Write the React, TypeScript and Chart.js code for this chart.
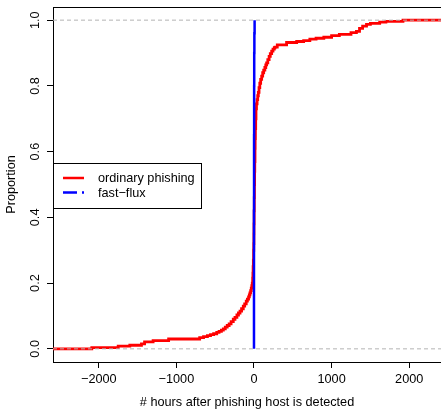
import { useEffect, useRef } from "react";
import { Chart, registerables } from "chart.js";

Chart.register(...registerables);

// Axis ranges and ticks
const X_MIN = -2590;
const X_MAX = 2410;
const Y_MIN = -0.04;
const Y_MAX = 1.04;
const X_TICKS = [-2000, -1000, 0, 1000, 2000];
const Y_TICKS = [0, 0.2, 0.4, 0.6, 0.8, 1.0];

const X_TITLE = "# hours after phishing host is detected";
const Y_TITLE = "Proportion";
const SERIES_NAMES = ["ordinary phishing", "fast\u2212flux"];

// ECDF of ordinary phishing (hours, cumulative proportion)
const ORD_HOURS = [
  -2090, -1750, -1600, -1450, -1410, -1300, -1100,
  -700, -650, -600, -560, -520, -480, -450, -420, -395, -370, -345, -320, -295,
  -267, -245, -220, -200, -180, -160, -138, -120, -100, -85, -70, -60, -52, -43,
  -35, -28, -22, -17, -14, -11, -8, -5, -3, -1, 0, 2, 4, 6, 8, 10, 13, 15, 18, 22,
  26, 32, 40, 48, 56, 65, 75, 86, 99, 112, 125, 140, 152, 163, 178, 195, 210, 228,
  245, 262, 271, 300, 420, 550, 640, 720, 800, 900, 1000, 1100, 1250, 1320, 1360,
  1400, 1450, 1500, 1620, 1700, 1920,
];
const ORD_CDF = [
  0.004, 0.008, 0.011, 0.015, 0.021, 0.025, 0.03,
  0.034, 0.037, 0.04, 0.043, 0.046, 0.05, 0.053, 0.057, 0.061, 0.066, 0.071, 0.076, 0.083,
  0.09, 0.096, 0.103, 0.109, 0.115, 0.122, 0.13, 0.137, 0.145, 0.151, 0.158, 0.164, 0.17, 0.177,
  0.185, 0.192, 0.2, 0.215, 0.23, 0.25, 0.27, 0.3, 0.32, 0.35, 0.38, 0.42, 0.46, 0.5, 0.54, 0.57, 0.61, 0.64, 0.67, 0.7,
  0.73, 0.745, 0.758, 0.77, 0.78, 0.795, 0.808, 0.82, 0.83, 0.84, 0.848, 0.856, 0.864, 0.87, 0.88, 0.89, 0.898, 0.906,
  0.912, 0.916, 0.918, 0.925, 0.932, 0.935, 0.938, 0.942, 0.945, 0.948, 0.953, 0.957, 0.962, 0.966, 0.975,
  0.982, 0.987, 0.99, 0.994, 0.996, 1.0,
];

// ECDF of fast-flux (hours, cumulative proportion)
const FF_HOURS = [0, 0, 1, 2, 3, 5, 8];
const FF_CDF = [0, 0.42, 0.65, 0.8, 0.9, 0.96, 1.0];

const REF_LINES = [0, 1];

const RED = "#ff0000";
const BLUE = "#0000ff";
const GRAY = "#b3b3b3";
const FONT = "'Liberation Sans', Arial, Helvetica, sans-serif";
const FONT_SIZE = 12.7;

const frameAndLegend = {
  id: "frameAndLegend",
  afterDraw(chart: any) {
    const { ctx, chartArea } = chart;
    ctx.save();
    // top frame line
    ctx.strokeStyle = "#000";
    ctx.lineWidth = 1;
    ctx.beginPath();
    ctx.moveTo(chartArea.left, Math.round(chartArea.top) + 0.5);
    ctx.lineTo(chartArea.right, Math.round(chartArea.top) + 0.5);
    ctx.stroke();

    // legend box (left, vertically centred)
    const w = 148;
    const h = 45;
    const left = Math.round(chartArea.left);
    const top = Math.round((chartArea.top + chartArea.bottom) / 2 - h / 2 + 1);
    ctx.fillStyle = "#fff";
    ctx.fillRect(left, top, w, h);
    ctx.strokeRect(left + 0.5, top + 0.5, w, h);

    const rows = [
      { label: SERIES_NAMES[0], color: RED, dash: [] as number[], dy: 15 },
      { label: SERIES_NAMES[1], color: BLUE, dash: [14, 5], dy: 29.5 },
    ];
    ctx.font = `${FONT_SIZE}px ${FONT}`;
    ctx.textBaseline = "middle";
    ctx.textAlign = "left";
    for (const r of rows) {
      const y = top + r.dy;
      ctx.strokeStyle = r.color;
      ctx.lineWidth = 2.5;
      ctx.setLineDash(r.dash);
      ctx.beginPath();
      ctx.moveTo(left + 10, y);
      ctx.lineTo(left + 31, y);
      ctx.stroke();
      ctx.setLineDash([]);
      ctx.fillStyle = "#000";
      ctx.fillText(r.label, left + 45, y + 0.5);
    }
    ctx.restore();
  },
};

export default function App() {
  const ref = useRef<HTMLCanvasElement | null>(null);

  useEffect(() => {
    if (!ref.current) return;
    Chart.defaults.font.family = FONT;
    Chart.defaults.font.size = FONT_SIZE;
    Chart.defaults.color = "#000";

    const ordData = [
      { x: X_MIN, y: 0 },
      ...ORD_HOURS.map((x, i) => ({ x, y: ORD_CDF[i] })),
      { x: X_MAX, y: 1 },
    ];
    const ffData = FF_HOURS.map((x, i) => ({ x, y: FF_CDF[i] }));

    const refSets = REF_LINES.map((v) => ({
      label: "ref" + v,
      data: [
        { x: X_MIN, y: v },
        { x: X_MAX, y: v },
      ],
      borderColor: GRAY,
      borderWidth: 1,
      borderDash: [4, 3],
      pointRadius: 0,
      order: 0,
    }));

    const chart = new Chart(ref.current, {
      type: "line",
      data: {
        datasets: [
          ...refSets,
          {
            label: SERIES_NAMES[1],
            data: ffData,
            borderColor: BLUE,
            borderWidth: 2.5,
            pointRadius: 0,
            stepped: "before",
            order: 1,
          },
          {
            label: SERIES_NAMES[0],
            data: ordData,
            borderColor: RED,
            borderWidth: 2.8,
            pointRadius: 0,
            stepped: "before",
            order: 2,
          },
        ] as any,
      },
      options: {
        animation: false,
        responsive: false,
        layout: { padding: { top: 7, left: 0, right: 0, bottom: 0 } },
        plugins: { legend: { display: false }, tooltip: { enabled: false } },
        scales: {
          x: {
            type: "linear",
            min: X_MIN,
            max: X_MAX,
            afterBuildTicks: (s: any) => {
              s.ticks = X_TICKS.map((v) => ({ value: v }));
            },
            afterFit: (s: any) => {
              s.height = 47;
              s.paddingLeft = 0;
              s.paddingRight = 0;
            },
            ticks: {
              autoSkip: false,
              minRotation: 0,
              maxRotation: 0,
              padding: 3.5,
              color: "#000",
              callback: (v: any) => (v < 0 ? "\u2212" + Math.abs(v) : String(v)),
            },
            grid: { drawOnChartArea: false, drawTicks: true, tickLength: 6, color: "#000" },
            border: { display: true, color: "#000", width: 1 },
            title: { display: true, text: X_TITLE, color: "#000", padding: { top: 0, bottom: -1 } },
          },
          y: {
            type: "linear",
            min: Y_MIN,
            max: Y_MAX,
            afterBuildTicks: (s: any) => {
              s.ticks = Y_TICKS.map((v) => ({ value: v }));
            },
            afterFit: (s: any) => {
              s.width = 53;
              s.paddingTop = 0;
              s.paddingBottom = 0;
            },
            ticks: {
              autoSkip: false,
              minRotation: 90,
              maxRotation: 90,
              crossAlign: "center",
              padding: 3,
              color: "#000",
              callback: (v: any) => Number(v).toFixed(1),
            },
            grid: { drawOnChartArea: false, drawTicks: true, tickLength: 6, color: "#000" },
            border: { display: true, color: "#000", width: 1 },
            title: { display: true, text: Y_TITLE, color: "#000", padding: { top: 4, bottom: 0 } },
          },
        },
      } as any,
      plugins: [frameAndLegend],
    });
    return () => chart.destroy();
  }, []);

  return (
    <div style={{ position: "fixed", left: 0, top: 0, width: 441, height: 409, background: "#fff" }}>
      <canvas ref={ref} width={441} height={409} style={{ display: "block" }} />
    </div>
  );
}
